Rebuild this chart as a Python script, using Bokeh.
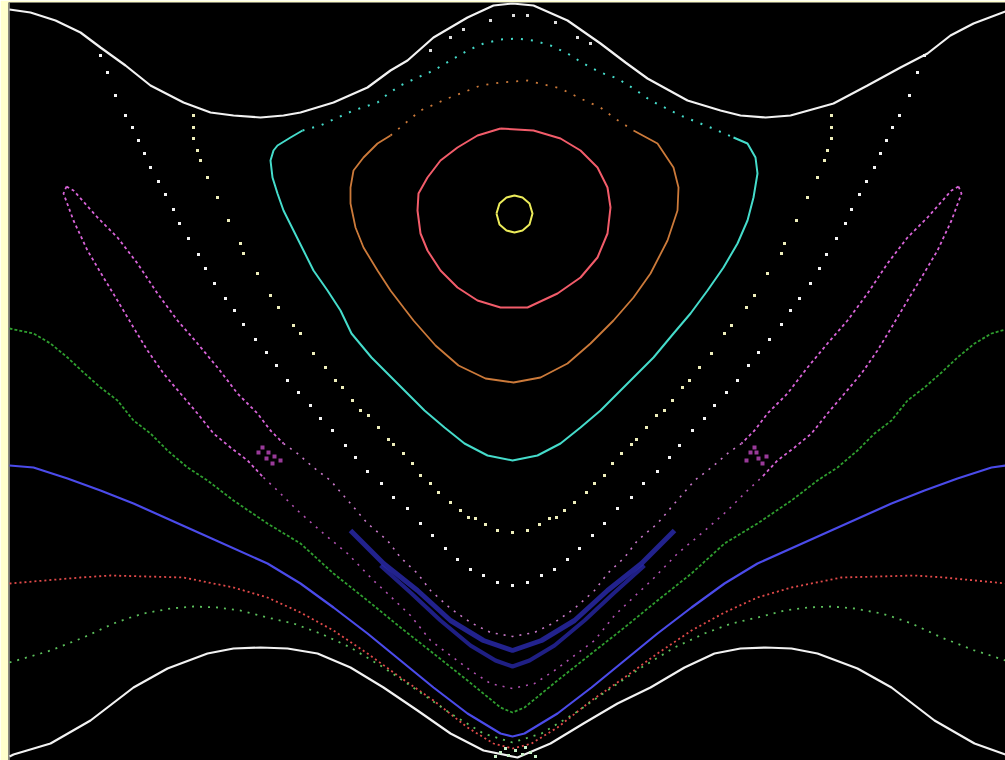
from bokeh.plotting import figure
from bokeh.models import Range1d
from bokeh.embed import file_html
from bokeh.resources import INLINE

# ---- data (in reference pixel units; y grows downward) ----
top_white_x = [9, 30, 55, 80, 100, 125, 150, 183, 210, 233, 260, 283, 300, 333, 367, 390, 407, 433, 467, 493, 512,
               533, 567, 600, 625, 647, 687, 720, 740, 765, 790, 833, 867, 900, 927, 950, 973, 1005]
top_white_y = [9, 12, 20, 32, 47, 65, 85, 102, 112, 115, 117, 115, 112, 102, 87, 70, 60, 37, 17, 5, 3,
               5, 20, 43, 62, 78, 100, 110, 115, 117, 115, 103, 85, 67, 53, 35, 23, 11]

bot_white_x = [9, 13, 50, 90, 133, 167, 207, 233, 260, 287, 317, 350, 383, 417, 450, 483, 517,
               550, 583, 617, 650, 684, 714, 740, 765, 791, 817, 857, 891, 934, 974, 1005]
bot_white_y = [756, 754, 743, 720, 687, 668, 653, 648, 647, 648, 653, 667, 687, 710, 733, 750, 757,
               743, 723, 703, 687, 667, 653, 648, 647, 648, 653, 668, 687, 720, 743, 754]

red_low_x = [9, 80, 110, 183, 233, 267, 300, 333, 367, 400, 433, 467, 493, 512,
             531, 557, 591, 624, 657, 691, 724, 757, 791, 841, 914, 944, 1005]
red_low_y = [583, 577, 575, 577, 587, 597, 612, 630, 653, 677, 700, 727, 743, 748,
             743, 727, 700, 677, 653, 630, 612, 597, 587, 577, 575, 577, 583]

green_low_x = [9, 40, 50, 83, 113, 130, 143, 170, 193, 217, 240, 267, 293, 320, 350, 383, 417, 450, 483, 512,
               541, 574, 607, 641, 674, 704, 731, 757, 784, 807, 831, 854, 881, 894, 911, 941, 974, 984, 1005]
green_low_y = [662, 653, 650, 637, 623, 617, 613, 608, 606, 607, 610, 617, 623, 633, 647, 667, 690, 713, 733, 742,
               733, 713, 690, 667, 647, 633, 623, 617, 610, 607, 606, 608, 613, 617, 623, 637, 650, 653, 660]

green_up_x = [9, 33, 50, 67, 83, 100, 117, 133, 150, 167, 187, 207, 233, 267, 300, 333, 367, 400, 433, 467, 500, 512,
              524, 557, 591, 624, 657, 691, 724, 757, 791, 817, 837, 857, 874, 891, 907, 924, 941, 957, 974, 991, 1005]
green_up_y = [328, 333, 343, 357, 372, 387, 400, 420, 433, 450, 467, 480, 500, 523, 543, 573, 600, 627, 653, 680, 707, 712,
              707, 680, 653, 627, 600, 573, 543, 523, 500, 480, 467, 450, 433, 420, 400, 387, 372, 357, 343, 333, 329]

blue_x = [9, 33, 67, 100, 133, 200, 267, 300, 333, 367, 400, 433, 467, 500, 512,
          524, 557, 591, 624, 657, 691, 724, 757, 824, 891, 924, 957, 991, 1005]
blue_y = [465, 467, 478, 490, 503, 533, 563, 583, 607, 633, 660, 687, 713, 733, 736,
          733, 713, 687, 660, 633, 607, 583, 563, 533, 503, 490, 478, 467, 465]

band_a_x = [350, 383, 417, 450, 483, 512, 541, 574, 607, 641, 674]
band_a_y = [530, 563, 590, 620, 640, 650, 640, 620, 590, 563, 530]
band_b_x = [380, 410, 440, 470, 495, 512, 529, 554, 584, 614, 644]
band_b_y = [565, 592, 620, 645, 660, 666, 660, 645, 620, 592, 565]

mag_in_l_x = [66, 73, 97, 117, 137, 157, 177, 197, 217, 237, 257, 270, 283]
mag_in_l_y = [186, 190, 217, 237, 263, 293, 320, 343, 367, 393, 413, 430, 443]
mag_out_l_x = [66, 63, 73, 87, 103, 117, 133, 147, 163, 180, 197, 213, 230, 247, 263]
mag_out_l_y = [186, 193, 220, 250, 277, 300, 327, 350, 373, 393, 413, 433, 447, 460, 477]
mag_in_r_x = [958, 951, 927, 907, 887, 867, 847, 827, 807, 787, 767, 754, 741]
mag_in_r_y = [186, 190, 217, 237, 263, 293, 320, 343, 367, 393, 413, 430, 443]
mag_out_r_x = [958, 961, 951, 937, 921, 907, 891, 877, 861, 844, 827, 811, 794, 777, 761]
mag_out_r_y = [186, 193, 220, 250, 277, 300, 327, 350, 373, 393, 413, 433, 447, 460, 477]

mag_a_x = [283, 297, 313, 330, 350, 367, 387, 400, 417, 430, 450, 470, 490, 512,
           534, 554, 574, 594, 607, 624, 637, 657, 674, 694, 711, 727, 741]
mag_a_y = [443, 453, 467, 480, 503, 523, 540, 557, 573, 590, 608, 622, 632, 636,
           632, 622, 608, 590, 573, 557, 540, 523, 503, 480, 467, 453, 443]
mag_b_x = [263, 277, 297, 323, 347, 373, 387, 410, 430, 450, 470, 490, 512,
           534, 554, 574, 594, 614, 637, 651, 677, 701, 727, 747, 761]
mag_b_y = [477, 490, 510, 533, 553, 580, 593, 615, 640, 655, 670, 683, 688,
           683, 670, 655, 640, 615, 593, 580, 553, 533, 510, 490, 477]

knot_x = [258, 262, 266, 268, 272, 274, 280, 750, 754, 758, 756, 762, 766, 746]
knot_y = [452, 447, 458, 452, 463, 456, 460, 452, 447, 458, 452, 463, 456, 460]

w1_x = [100, 107, 115, 125, 132, 138, 144, 150, 158, 165, 173, 179, 188, 198, 205, 214, 225, 234, 243, 255, 266,
        276, 287, 298, 310, 320, 332, 345, 355, 367, 381, 393, 407, 420, 432, 445, 457, 470, 483, 497, 512,
        527, 541, 554, 567, 579, 592, 604, 617, 631, 643, 657, 669, 679, 692, 704, 714, 726, 737, 748, 758,
        769, 781, 790, 799, 810, 819, 826, 836, 845, 851, 859, 866, 874, 880, 886, 892, 899, 909, 917, 924]
w1_y = [55, 72, 95, 115, 127, 140, 153, 167, 181, 194, 209, 223, 238, 254, 268, 283, 298, 310, 324, 339, 352,
        365, 380, 392, 405, 418, 430, 445, 457, 471, 483, 497, 508, 523, 535, 548, 559, 569, 575, 582, 585,
        582, 575, 569, 559, 548, 535, 523, 508, 497, 483, 471, 457, 445, 430, 418, 405, 392, 380, 365, 352,
        339, 324, 310, 298, 283, 268, 254, 238, 223, 209, 194, 181, 167, 153, 140, 127, 115, 95, 72, 55]

w2_x = [193, 193, 193, 197, 200, 207, 217, 228, 240, 243, 257, 270, 278, 293, 300, 313, 325, 335, 342, 352,
        360, 368, 378, 388, 393, 403, 412, 420, 430, 438, 450, 460, 468, 475, 485, 497, 512,
        527, 539, 549, 556, 564, 574, 586, 594, 604, 612, 621, 631, 636, 646, 656, 664, 672, 682,
        689, 699, 711, 724, 731, 746, 754, 767, 781, 784, 796, 807, 817, 824, 827, 831, 831, 831]
w2_y = [115, 127, 138, 150, 160, 177, 197, 220, 243, 253, 273, 295, 307, 325, 333, 353, 367, 380, 387, 400,
        410, 415, 427, 439, 444, 453, 463, 475, 483, 492, 502, 510, 517, 518, 524, 530, 532,
        530, 524, 518, 517, 510, 502, 492, 483, 475, 463, 453, 444, 439, 427, 415, 410, 400, 387,
        380, 367, 353, 333, 325, 307, 295, 273, 253, 243, 220, 197, 177, 160, 150, 138, 127, 115]

w3_x = [430, 450, 463, 490, 513, 527, 555, 577, 590]
w3_y = [50, 37, 29, 20, 15, 15, 22, 37, 43]

chaos_x = [500, 505, 508, 515, 522, 525, 530, 495, 535]
chaos_y = [752, 748, 755, 750, 754, 747, 752, 756, 756]

cyan_solid_x = [302, 290, 277, 273, 270, 272, 277, 283, 293, 303, 313, 327, 340, 351, 371, 387, 407, 424, 444, 464,
                487, 512, 537, 560, 580, 600, 617, 637, 653, 673, 690, 707, 723, 737, 747, 753, 757, 755, 747, 733]
cyan_solid_y = [130, 137, 145, 150, 160, 177, 193, 210, 230, 250, 270, 290, 310, 333, 357, 373, 393, 410, 427, 443,
                455, 460, 455, 443, 427, 410, 393, 373, 357, 333, 313, 290, 267, 243, 220, 197, 173, 157, 143, 137]
cyan_top_x = [302, 320, 335, 353, 377, 388, 400, 417, 433, 450, 467, 483, 500, 517, 533, 550, 567, 583, 600, 617,
              633, 650, 680, 710, 733]
cyan_top_y = [130, 125, 118, 110, 102, 93, 85, 77, 70, 60, 50, 43, 39, 38, 40, 45, 53, 63, 72, 78,
              88, 100, 115, 127, 137]

orange_solid_x = [390, 377, 363, 353, 350, 350, 355, 363, 377, 390, 403, 413, 435, 458, 485, 513, 540, 567, 590,
                  613, 633, 650, 667, 677, 678, 673, 657, 633]
orange_solid_y = [135, 143, 157, 170, 187, 203, 227, 247, 270, 290, 307, 320, 345, 365, 378, 382, 377, 363, 343,
                  320, 297, 273, 240, 210, 187, 167, 143, 130]
orange_top_x = [390, 420, 447, 460, 480, 500, 527, 560, 580, 600, 613, 633]
orange_top_y = [135, 110, 98, 93, 85, 82, 80, 88, 98, 107, 117, 130]

red_ring_x = [500, 477, 457, 440, 427, 418, 417, 420, 427, 440, 457, 477, 500, 527, 557, 580, 597, 607, 610,
              607, 597, 580, 560, 533, 500]
red_ring_y = [128, 135, 147, 160, 177, 193, 210, 233, 250, 270, 287, 300, 307, 307, 293, 277, 257, 233, 207,
              187, 167, 150, 138, 130, 128]

yellow_x = [496, 499, 506, 514, 522, 529, 532, 529, 522, 514, 506, 499, 496]
yellow_y = [213, 203, 197, 195, 197, 203, 213, 224, 230, 232, 230, 224, 213]

frame_edge_x = [8.5, 8.5]
frame_edge_y = [2, 760]

# ---- figure ----
p = figure(width=1005, height=760, x_range=Range1d(8, 1005), y_range=Range1d(760, 2),
           output_backend="svg", toolbar_location=None,
           x_axis_location=None, y_axis_location=None,
           background_fill_color="black", border_fill_color="#ffffcc",
           min_border=0, min_border_left=8, min_border_top=2,
           min_border_right=0, min_border_bottom=0, outline_line_color=None)
p.xgrid.visible = False
p.ygrid.visible = False

p.line(frame_edge_x, frame_edge_y, line_color="#9a9a90", line_width=1.5)

# outer boundary curves
p.line(top_white_x, top_white_y, line_color="#f2f2f2", line_width=2.2)
p.line(bot_white_x, bot_white_y, line_color="#f2f2f2", line_width=2.2)

# lower rotational curves
p.line(green_up_x, green_up_y, line_color="#2f9e2f", line_width=1.8, line_dash="3 2")
p.line(blue_x, blue_y, line_color="#4b4bea", line_width=2.2)
p.line(red_low_x, red_low_y, line_color="#e24a4a", line_width=1.8, line_dash="2 3")
p.line(green_low_x, green_low_y, line_color="#5cc05c", line_width=1.8, line_dash="2 6")
p.scatter(chaos_x, chaos_y, marker="square", size=3, color="#c8f0c8", line_width=0)

# blue band in the V
p.line(band_a_x, band_a_y, line_color="#2a2ab0", line_width=5, line_alpha=0.8)
p.line(band_b_x, band_b_y, line_color="#2a2ab0", line_width=4, line_alpha=0.75)

# magenta island chain
for xs, ys in [(mag_in_l_x, mag_in_l_y), (mag_out_l_x, mag_out_l_y),
               (mag_in_r_x, mag_in_r_y), (mag_out_r_x, mag_out_r_y)]:
    p.line(xs, ys, line_color="#d964d9", line_width=1.8, line_dash="3 3")
p.line(mag_a_x, mag_a_y, line_color="#c878c8", line_width=1.6, line_dash="2 6")
p.line(mag_b_x, mag_b_y, line_color="#b050b0", line_width=1.6, line_dash="2 6")
p.scatter(knot_x, knot_y, marker="square", size=4, color="#9a3a9a", line_width=0)

# chaotic white dotted orbits
p.scatter(w1_x, w1_y, marker="square", size=3, color="#f4f4f4", line_width=0)
p.scatter(w2_x, w2_y, marker="square", size=3, color="#eeeebb", line_width=0)
p.scatter(w3_x, w3_y, marker="square", size=3, color="#dddddd", line_width=0)

# central island
p.line(cyan_solid_x, cyan_solid_y, line_color="#45dccb", line_width=2)
p.line(cyan_top_x, cyan_top_y, line_color="#45dccb", line_width=2, line_dash="2 8")
p.line(orange_solid_x, orange_solid_y, line_color="#cc7a3a", line_width=1.8)
p.line(orange_top_x, orange_top_y, line_color="#cc7a3a", line_width=1.8, line_dash="2 8")
p.line(red_ring_x, red_ring_y, line_color="#f25c6a", line_width=2)
p.line(yellow_x, yellow_y, line_color="#ecec5a", line_width=2)

open("out.html", "w").write(file_html(p, INLINE))
